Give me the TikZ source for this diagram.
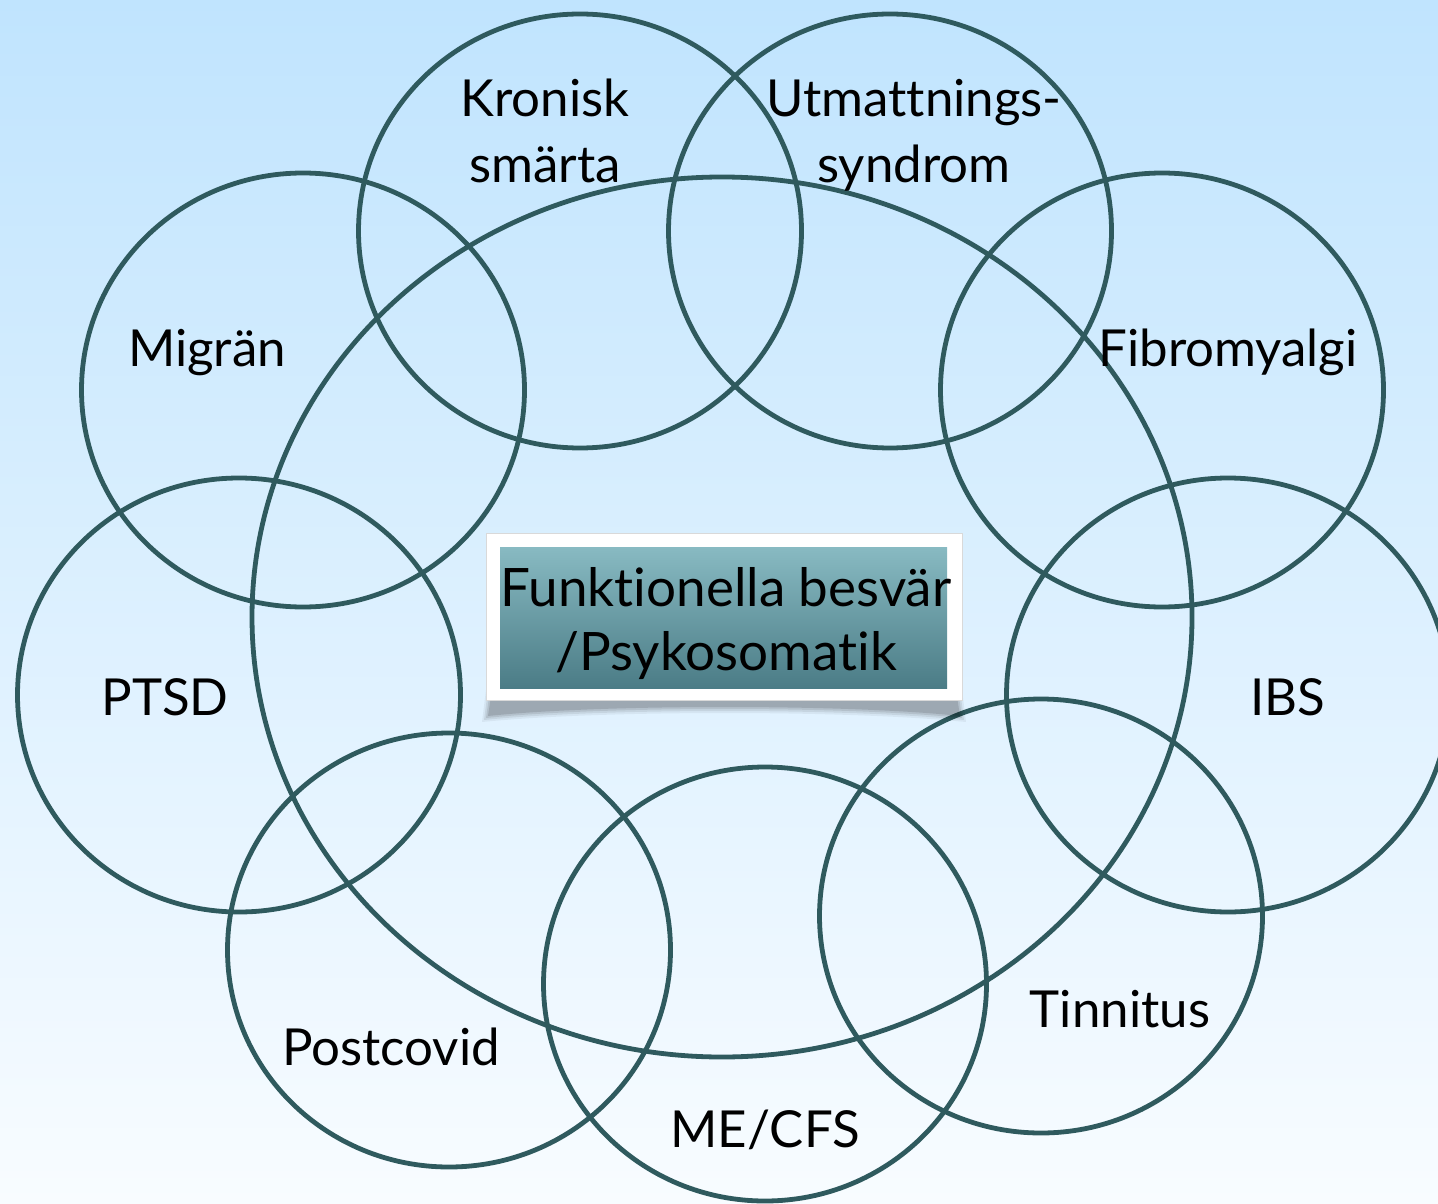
\documentclass[tikz,border=0pt]{standalone}
\usepackage{fontspec}
\setmainfont{Lato}[Ligatures=NoCommon]
\usetikzlibrary{shapes.geometric}
\definecolor{bgtop}{HTML}{C0E4FE}
\definecolor{bgbot}{HTML}{F8FCFF}
\definecolor{ringc}{HTML}{2F5A5E}
\definecolor{boxtop}{HTML}{88BAC2}
\definecolor{boxbot}{HTML}{4B7C86}
\begin{document}
\begin{tikzpicture}[x=0.5pt,y=-0.5pt,
  ring/.style={ellipse,draw=ringc,line width=2.4pt,minimum width=221.5pt,minimum height=217pt,inner sep=0pt},
  lbl/.style={font=\fontsize{25.5}{33}\selectfont,text=black,inner sep=0pt,anchor=base,align=center},
]
\fill[top color=bgtop,bottom color=bgbot] (0,0) rectangle (1438,1203);
\useasboundingbox (0,0) rectangle (1438,1203);
% circles
\node[ring] (kron) at (580,231) {};
\node[ring] (utm) at (890,231) {};
\node[ring] (mig) at (303,390) {};
\node[ring] (fib) at (1162,390) {};
\node[ring] (ptsd) at (239,695) {};
\node[ring] (ibs) at (1228,695) {};
\node[ring] (post) at (449,950) {};
\node[ring] (me) at (765,984) {};
\node[ring] (tin) at (1041,916) {};
\node[ellipse,draw=ringc,line width=2.4pt,minimum width=470pt,minimum height=440pt,inner sep=0pt] (big) at (722,617) {};
% shadow
\foreach \d/\o in {6/0.05,4/0.07,2/0.09,0/0.12}{
  \fill[black,opacity=\o] (492-\d,690) -- (488-\d,716+\d) .. controls (600,704+\d) and (850,704+\d) .. (960+\d,716+\d) -- (956+\d,690) -- cycle;
}
% box
\node[fill=white,draw=black!15,line width=0.3pt,minimum width=238pt,minimum height=83.5pt,inner sep=0pt] (frame) at (724,616.5) {};
\node[top color=boxtop,bottom color=boxbot,minimum width=223.5pt,minimum height=70.5pt,inner sep=0pt] (core) at (723.5,617.5) {};
\node[font=\fontsize{26.5}{32}\selectfont,align=center,inner sep=0pt,anchor=base] (ctext) at (726,670) {Funktionella besvär\\/Psykosomatik};
% labels
\node[lbl] (tkron) at (545,183) {Kronisk\\smärta};
\node[lbl] (tutm) at (914,183) {Utmattnings-\\syndrom};
\node[lbl] (tmig) at (207,366) {Migrän};
\node[lbl] (tfib) at (1228,366) {Fibromyalgi};
\node[lbl] (tptsd) at (165,715) {PTSD};
\node[lbl] (tibs) at (1288,715) {IBS};
\node[lbl] (tpost) at (391,1065) {Postcovid};
\node[lbl] (tme) at (765,1147) {ME/CFS};
\node[lbl] (ttin) at (1120,1027) {Tinnitus};
\end{tikzpicture}
\end{document}
